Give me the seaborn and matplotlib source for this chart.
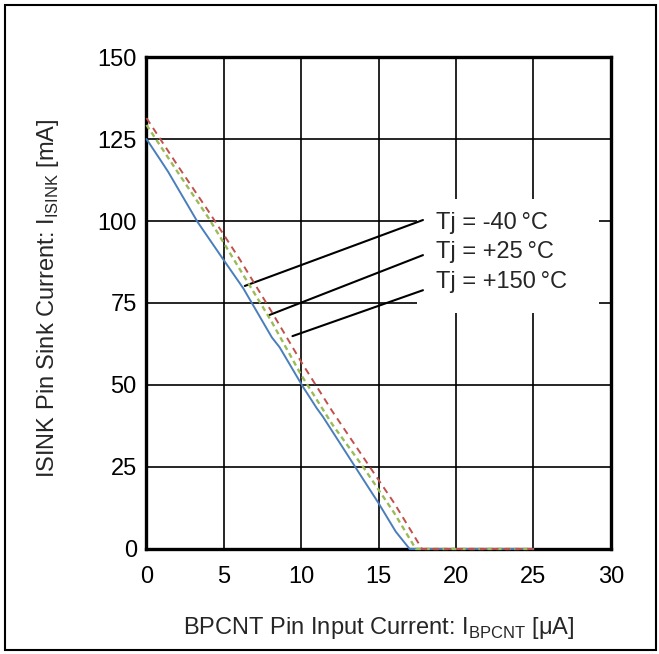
import numpy as np
import pandas as pd
import matplotlib
matplotlib.use("Agg")
import matplotlib.pyplot as plt
import seaborn as sns
from matplotlib.patches import Rectangle

## Values
x_m40 = [0, 0.9, 1.4, 3.3, 5.0, 6.25, 8.1, 8.6, 10.1, 11.0, 11.4, 15.0, 16.1, 17.0, 25.0]
y_m40 = [125, 118.6, 115, 99.7, 88, 79.5, 64.5, 61.5, 49.5, 42.9, 40.3, 13.9, 5.3, 0, 0]

x_p25 = [0, 2, 4, 6, 8, 10, 12, 14, 16, 17.4, 25]
y_p25 = [129.3, 115, 101, 85.5, 70, 53, 38, 25, 11, 0, 0]

x_p150 = [0, 2, 4, 6, 8, 10, 12, 14, 16, 17.8, 25]
y_p150 = [131.4, 117, 103, 88.5, 73, 57, 42, 28, 14, 0, 0]

labels = ["Tj = -40\u2009°C", "Tj = +25\u2009°C", "Tj = +150\u2009°C"]
x_ticks = [0, 5, 10, 15, 20, 25, 30]
y_ticks = [0, 25, 50, 75, 100, 125, 150]

sns.set_style("white")
plt.rcParams['font.family'] = ['Liberation Sans', 'DejaVu Sans']
plt.rcParams['mathtext.fontset'] = 'custom'
plt.rcParams['mathtext.rm'] = 'Liberation Sans'

fig = plt.figure(figsize=(6.59, 6.54), dpi=100)
ax = fig.add_axes([0.2223, 0.1606, 0.7047, 0.7522])

sns.lineplot(x=x_m40, y=y_m40, ax=ax, color="#4a7ebb", lw=1.4, sort=False)
sns.lineplot(x=x_p25, y=y_p25, ax=ax, color="#9bbb59", lw=1.7, sort=False)
ax.lines[-1].set_dashes([2.2, 1.6])
sns.lineplot(x=x_p150, y=y_p150, ax=ax, color="#c0504d", lw=1.4, sort=False)
ax.lines[-1].set_dashes([3.5, 2.6])
for ln in ax.lines:
    ln.set_zorder(7)
    ln.set_clip_on(False)

ax.set_xlim(0, 30)
ax.set_ylim(0, 150)
ax.set_xticks(x_ticks)
ax.set_yticks(y_ticks)
ax.grid(True, color="black", lw=1.2)
ax.set_axisbelow(True)
ax.tick_params(length=0, labelsize=17, colors="black")
ax.tick_params(axis="y", pad=7)
ax.tick_params(axis="x", pad=12)
for s in ax.spines.values():
    s.set_color("black")
    s.set_linewidth(2.4)
    s.set_zorder(6)

# white text box that hides the grid under the labels
ax.add_patch(Rectangle((17.45, 72), 11.8, 34.7, facecolor="white", edgecolor="none", zorder=2))

# leader lines
ax.plot([6.35, 17.86], [80.2, 100.3], color="black", lw=1.5, zorder=4)
ax.plot([7.92, 17.86], [71.3, 89.6], color="black", lw=1.5, zorder=4)
ax.plot([9.43, 17.86], [64.9, 78.9], color="black", lw=1.5, zorder=4)
for lab, yy in zip(labels, [99.4, 90.6, 81.5]):
    ax.text(18.72, yy, lab, fontsize=17, va="center", ha="left", zorder=5)

ax.set_xlabel("BPCNT Pin Input Current: I$_\\mathregular{BPCNT}$ [μA]", fontsize=17)
ax.set_ylabel("ISINK Pin Sink Current: I$_\\mathregular{ISINK}$ [mA]", fontsize=17)
ax.xaxis.set_label_coords(0.5, -0.161)
ax.xaxis.label.set_va("center")
ax.yaxis.set_label_coords(-0.213, 0.51)
ax.yaxis.label.set_va("center")

# outer frame
fig.add_artist(Rectangle((5 / 659, 4 / 654), 651 / 659, 645 / 654, transform=fig.transFigure,
                         fill=False, edgecolor="black", lw=1.5))

fig.savefig("out.png", dpi=100)
